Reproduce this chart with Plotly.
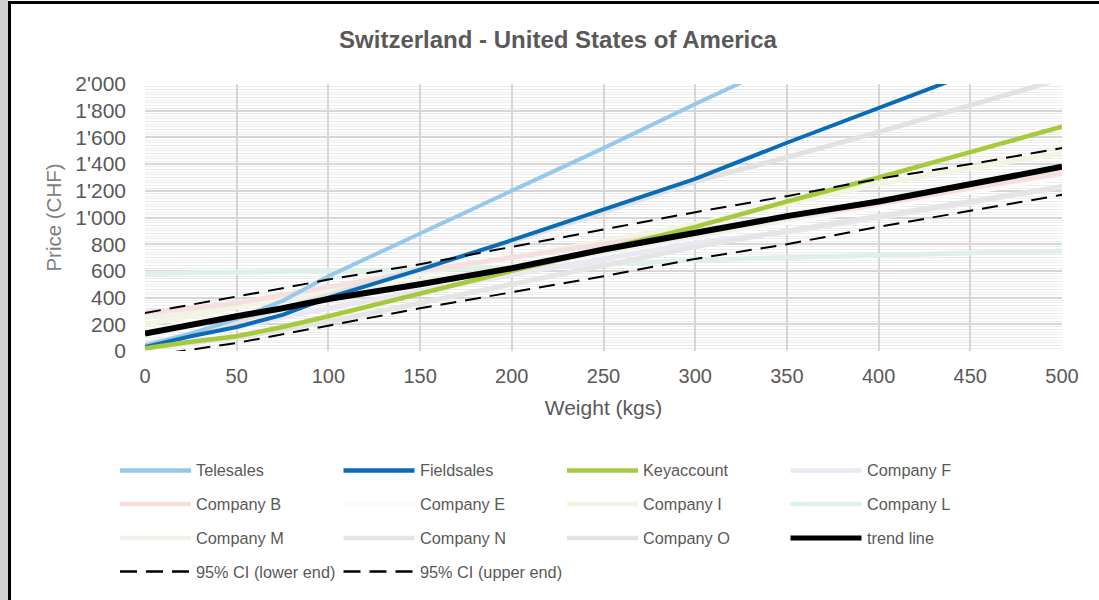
import plotly.graph_objects as go

# Shipping weight grid (kg)
weights = [0, 25, 50, 75, 100, 150, 200, 250, 300, 350, 400, 450, 500]

# Price curves (CHF)
telesales = [40, 130, 240, 375, 560, 880, 1200, 1520, 1850, 2170, 2490, 2810, 3130]
fieldsales = [30, 110, 180, 270, 400, 610, 830, 1060, 1290, 1560, 1820, 2080, 2340]
keyaccount = [20, 70, 110, 180, 260, 430, 600, 760, 930, 1120, 1300, 1490, 1680]
company_f = [60, 120, 180, 250, 320, 450, 570, 690, 810, 890, 1000, 1110, 1230]
company_b = [290, 320, 360, 420, 480, 600, 700, 800, 900, 1000, 1100, 1220, 1330]
company_e = [150, 210, 270, 330, 390, 500, 620, 730, 850, 960, 1070, 1190, 1300]
company_i = [200, 260, 330, 390, 450, 580, 700, 820, 950, 1100, 1250, 1370, 1480]
company_l = [580, 585, 590, 592, 595, 605, 620, 650, 680, 700, 720, 735, 750]
company_m = [250, 290, 340, 380, 420, 520, 620, 740, 860, 980, 1100, 1220, 1340]
company_n = [20, 60, 100, 160, 220, 360, 500, 640, 780, 900, 1010, 1120, 1230]
company_o = [40, 130, 220, 320, 420, 620, 820, 1040, 1270, 1450, 1640, 1840, 2040]
trend = [130, 200, 260, 320, 390, 500, 620, 760, 890, 1010, 1120, 1250, 1380]
ci_lower = [-40, 10, 60, 125, 190, 320, 440, 560, 690, 800, 930, 1050, 1170]
ci_upper = [285, 345, 405, 470, 535, 650, 780, 910, 1040, 1160, 1290, 1400, 1520]

# Legend entries in display order (row by row, four per row)
legend_names = ["Telesales", "Fieldsales", "Keyaccount", "Company F",
                "Company B", "Company E", "Company I", "Company L",
                "Company M", "Company N", "Company O", "trend line",
                "95% CI (lower end)", "95% CI (upper end)"]

series = {
    "Telesales": (telesales, "#95c8ea", 4, "solid"),
    "Fieldsales": (fieldsales, "#0b6cb6", 4, "solid"),
    "Keyaccount": (keyaccount, "#a6ca3c", 4.5, "solid"),
    "Company F": (company_f, "#ece7f2", 5, "solid"),
    "Company B": (company_b, "#f5e0df", 5, "solid"),
    "Company E": (company_e, "#fafafa", 5, "solid"),
    "Company I": (company_i, "#f2f5e2", 5, "solid"),
    "Company L": (company_l, "#dff1e7", 5, "solid"),
    "Company M": (company_m, "#eef2e8", 5, "solid"),
    "Company N": (company_n, "#e5e5e5", 5, "solid"),
    "Company O": (company_o, "#e2e2e2", 5, "solid"),
    "trend line": (trend, "#000000", 6, "solid"),
    "95% CI (lower end)": (ci_lower, "#000000", 2, "16px,9px"),
    "95% CI (upper end)": (ci_upper, "#000000", 2, "16px,9px"),
}

# drawing order: faint competitor curves underneath, highlighted series on top
draw_order = ["Company E", "Company M", "Company I", "Company L", "Company B",
              "Company F", "Company N", "Company O",
              "Telesales", "Fieldsales", "Keyaccount", "trend line",
              "95% CI (lower end)", "95% CI (upper end)"]

W, H = 1099, 600
ML, MR, MT, MB = 145, 37, 84, 249
PW, PH = W - ML - MR, H - MT - MB


def px(x):
    return (x - ML) / PW


def py(y):
    return (H - MB - y) / PH


TXT = "#595959"
FONT = "Liberation Sans, Arial, sans-serif"

fig = go.Figure()
for name in draw_order:
    vals, color, width, dash = series[name]
    fig.add_trace(go.Scatter(
        x=weights, y=vals, mode="lines", name=name, showlegend=False,
        line=dict(color=color, width=width, dash=dash),
    ))

shapes = []
annotations = []

# outer frame: grey strip on the left and black rules
shapes.append(dict(type="rect", xref="paper", yref="paper",
                   x0=px(0), x1=px(8.5), y0=py(600), y1=py(0),
                   fillcolor="#d0d0d0", line=dict(width=0), layer="below"))
shapes.append(dict(type="line", xref="paper", yref="paper",
                   x0=px(9.5), x1=px(9.5), y0=py(600), y1=py(1),
                   line=dict(color="#000000", width=3)))
shapes.append(dict(type="line", xref="paper", yref="paper",
                   x0=px(8), x1=px(1099), y0=py(2.5), y1=py(2.5),
                   line=dict(color="#000000", width=3)))

# legend drawn as sample strokes plus labels, four columns
col_x = [120, 343.5, 567, 790.5]
row_y = [470.5, 504, 538, 571.5]
for i, name in enumerate(legend_names):
    _, color, width, dash = series[name]
    r, c = divmod(i, 4)
    x0 = col_x[c]
    y0 = row_y[r]
    lw = 2.5 if dash != "solid" else (5 if name in ("trend line",) else 4.5)
    shapes.append(dict(type="line", xref="paper", yref="paper",
                       x0=px(x0), x1=px(x0 + 71), y0=py(y0), y1=py(y0),
                       line=dict(color=color, width=lw,
                                 dash="17px,9px" if dash != "solid" else "solid")))
    annotations.append(dict(xref="paper", yref="paper", x=px(x0 + 74), y=py(y0),
                            xanchor="left", yanchor="middle", showarrow=False,
                            text=name, font=dict(family=FONT, size=16.3, color=TXT)))

fig.update_layout(
    width=W, height=H,
    margin=dict(l=ML, r=MR, t=MT, b=MB),
    paper_bgcolor="white", plot_bgcolor="white",
    separators=".'",
    showlegend=False,
    font=dict(family=FONT, color=TXT),
    title=dict(text="<b>Switzerland - United States of America</b>",
               x=558 / W, xref="container", xanchor="center",
               y=1 - 40 / H, yref="container", yanchor="middle",
               font=dict(family=FONT, size=24, color=TXT)),
    xaxis=dict(range=[0, 500], dtick=50, tick0=0, showgrid=True,
               gridcolor="#d6d6d6", gridwidth=1.5, zeroline=False,
               showline=False, ticks="", ticklabelstandoff=11,
               tickfont=dict(family=FONT, size=20, color=TXT),
               title=dict(text="Weight (kgs)", standoff=14,
                          font=dict(family=FONT, size=21, color=TXT))),
    yaxis=dict(range=[0, 2000], dtick=200, tick0=0, showgrid=True,
               gridcolor="#d6d6d6", gridwidth=1.5, zeroline=False,
               showline=False, ticks="", tickformat=",d",
               ticklabelstandoff=18,
               minor=dict(dtick=20, showgrid=True, gridcolor="#ebebeb", gridwidth=1),
               tickfont=dict(family=FONT, size=21, color=TXT),
               title=dict(text="Price (CHF)", standoff=8,
                          font=dict(family=FONT, size=20.5, color="#7f7f7f"))),
    shapes=shapes,
    annotations=annotations,
)

fig.write_html("out.html")
